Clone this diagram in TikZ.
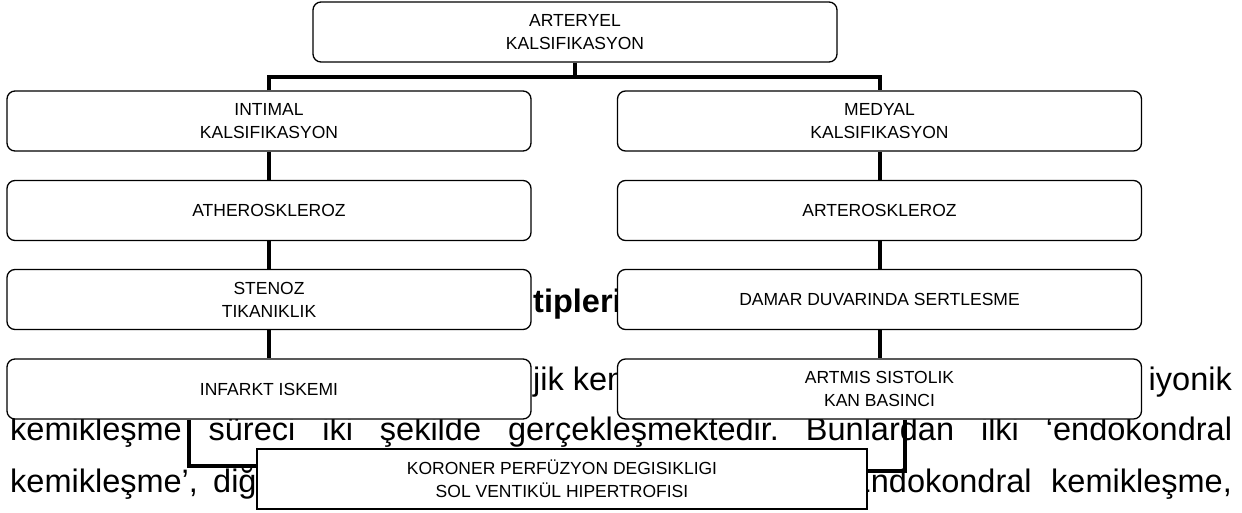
\documentclass[tikz,border=0pt]{standalone}
\usepackage{fontspec}
\setmainfont{Liberation Sans}
\frenchspacing
\newcommand{\dgboxfont}{\fontsize{17.5}{23}\selectfont}
\newcommand{\dgbodyfont}{\fontsize{32.5}{38}\selectfont}
\begin{document}
\begin{tikzpicture}[x=1pt,y=-1pt,
  box/.style={draw=black, line width=1.3pt, rounded corners=8pt, fill=white,
    minimum width=524pt, minimum height=60pt, align=center, inner sep=0pt, font=\dgboxfont},
  kbox/.style={draw=black, line width=1.1pt, fill=white,
    minimum width=610pt, minimum height=60pt, align=center, inner sep=0pt, font=\dgboxfont},
  conn/.style={line width=4pt, line join=miter},
  body/.style={inner sep=0pt, font=\dgbodyfont}]
\useasboundingbox (0,0) rectangle (1242,512);
% background page text
\node[body, anchor=base west] (t0) at (533,312) {\bfseries tipleri};
\node[body, anchor=base west] (t1) at (533,390) {jik kemikleşme};
\node[body, anchor=base east] (t2) at (1232,390) {iyonik};
\node[body, anchor=base west] (t3) at (10,440) {\makebox[1222pt][s]{kemikleşme süreci iki şekilde gerçekleşmektedir. Bunlardan ilki ‘endokondral}};
\node[body, anchor=base west] (t4) at (10,492) {kemikleşme’,};
\node[body, anchor=base west] (t5) at (213,492) {diğeri};
\node[body, anchor=base west] (t6) at (849,492) {Endokondral};
\node[body, anchor=base east] (t7) at (1232,492) {kemikleşme,};
% coordinates
\coordinate (jT) at (575,77);
\coordinate (bL) at (189,466);
\coordinate (bR) at (905,471);
% boxes
\node[box] (T)  at (575,32)    {ARTERYEL\\KALSIFIKASYON};
\node[box] (L1) at (269,121)   {INTIMAL\\KALSIFIKASYON};
\node[box] (R1) at (879.5,121) {MEDYAL\\KALSIFIKASYON};
\node[box] (L2) at (269,210.5) {ATHEROSKLEROZ};
\node[box] (R2) at (879.5,210.5) {ARTEROSKLEROZ};
\node[box] (L3) at (269,299.5) {STENOZ\\TIKANIKLIK};
\node[box] (R3) at (879.5,299.5) {DAMAR DUVARINDA SERTLESME};
\node[box] (L4) at (269,389)   {INFARKT ISKEMI};
\node[box] (R4) at (879.5,389) {ARTMIS SISTOLIK\\KAN BASINCI};
\node[kbox] (K) at (562,479)   {KORONER PERFÜZYON DEGISIKLIGI\\SOL VENTIKÜL HIPERTROFISI};
% connectors
\draw[conn] (T.south) -- (jT);
\draw[conn] (L1.north) -- (L1.north |- jT) -- (R1.north |- jT) -- (R1.north);
\draw[conn] (L1.south) -- (L2.north);
\draw[conn] (L2.south) -- (L3.north);
\draw[conn] (L3.south) -- (L4.north);
\draw[conn] (R1.south) -- (R2.north);
\draw[conn] (R2.south) -- (R3.north);
\draw[conn] (R3.south) -- (R4.north);
\draw[conn] (L4.south -| bL) -- (bL) -- (bL -| K.west);
\draw[conn] (R4.south -| bR) -- (bR) -- (bR -| K.east);
\end{tikzpicture}
\end{document}
